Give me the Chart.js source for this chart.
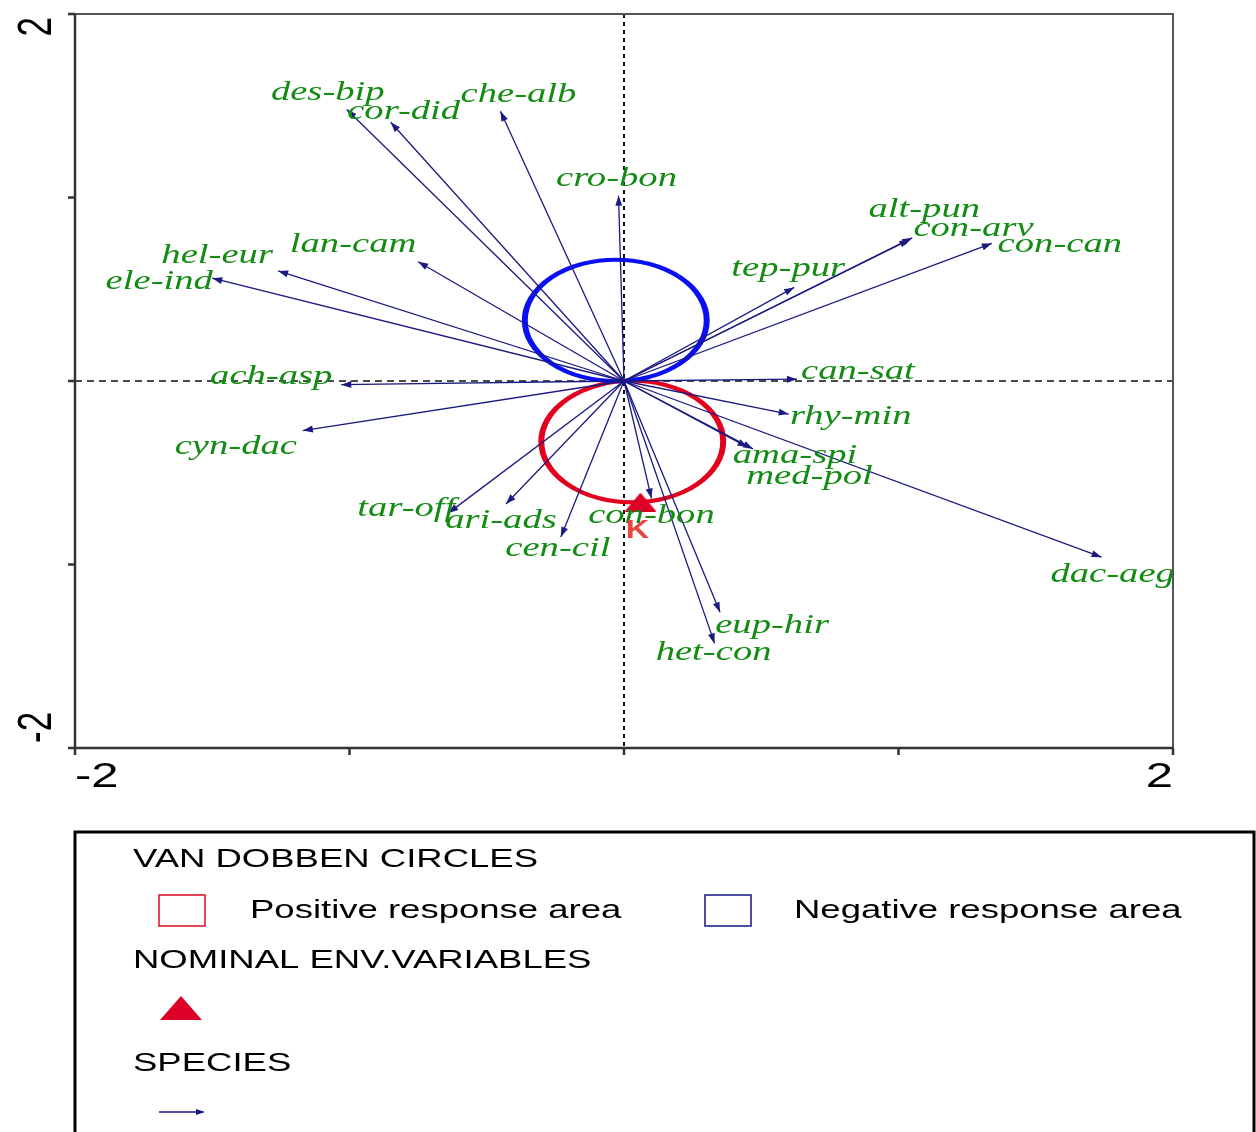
<!DOCTYPE html>
<html>
<head>
<meta charset="utf-8">
<script src="https://cdn.jsdelivr.net/npm/chart.js@4.4.1/dist/chart.umd.min.js"></script>
<style>
  html, body { margin: 0; padding: 0; background: #fff; }
  canvas { display: block; }
</style>
</head>
<body>
<canvas id="biplot" width="1256" height="1132"></canvas>
<script>
// species scores on the first two ordination axes
const species = ['des-bip', 'cor-did', 'che-alb', 'cro-bon', 'lan-cam', 'hel-eur', 'ele-ind', 'ach-asp',
  'cyn-dac', 'tar-off', 'ari-ads', 'cen-cil', 'con-bon', 'eup-hir', 'het-con', 'dac-aeg',
  'ama-spi', 'med-pol', 'rhy-min', 'can-sat', 'tep-pur', 'alt-pun', 'con-arv', 'con-can'];
const axis1 = [-1.01, -0.85, -0.45, -0.02, -0.75, -1.26, -1.50, -1.03,
  -1.17, -0.64, -0.43, -0.23, 0.10, 0.35, 0.33, 1.74,
  0.47, 0.45, 0.60, 0.63, 0.62, 1.05, 1.04, 1.34];
const axis2 = [1.48, 1.41, 1.47, 1.01, 0.65, 0.60, 0.56, -0.02,
  -0.27, -0.72, -0.67, -0.85, -0.64, -1.26, -1.43, -0.96,
  -0.37, -0.36, -0.18, 0.01, 0.51, 0.78, 0.77, 0.75];

// nominal environmental variable (centroid)
const envNames = ['K'];
const envAxis1 = [0.06];
const envAxis2 = [-0.66];

const tickValues = [-2, -1, 0, 1, 2];
const tickLabels = ['-2', '', '', '', '2'];

// label placement relative to each arrow tip, in pixels (centre x, baseline y)
const labelOffsets = [[-19, -9], [13, -3], [18, -9], [-2, -10], [-65, -10], [-61, -8], [-53, 11], [-70, -1],
  [-67, 23], [-42, 3], [-5, 24], [-3, 19], [0, 25], [52, 21], [-1, 17], [11, 25],
  [42, 14], [62, 37], [62, 10], [61, 0], [-6, -11], [12, -21], [64, -4], [68, 9]];

const STRETCH = 1.4;
const NAVY = '#1a1a80';
const RED = '#e3001f';
const BLUE = '#0a10f2';

function wideText(ctx, text, x, y, align, sx) {
  ctx.save();
  ctx.translate(x, y);
  ctx.scale(sx, 1);
  ctx.textAlign = align;
  ctx.textBaseline = 'alphabetic';
  ctx.fillText(text, 0, 0);
  ctx.restore();
}

function arrowHead(ctx, x0, y0, x1, y1, len, half) {
  const a = Math.atan2(y1 - y0, x1 - x0);
  ctx.beginPath();
  ctx.moveTo(x1, y1);
  ctx.lineTo(x1 - len * Math.cos(a) + half * Math.sin(a), y1 - len * Math.sin(a) - half * Math.cos(a));
  ctx.lineTo(x1 - len * Math.cos(a) - half * Math.sin(a), y1 - len * Math.sin(a) + half * Math.cos(a));
  ctx.closePath();
  ctx.fill();
}

// flattened triangle used as the centroid marker
function triangleMarker(w, h, color) {
  const c = document.createElement('canvas');
  c.width = w;
  c.height = h;
  const g = c.getContext('2d');
  g.fillStyle = color;
  g.beginPath();
  g.moveTo(w / 2, 0);
  g.lineTo(w, h);
  g.lineTo(0, h);
  g.closePath();
  g.fill();
  return c;
}

const biplotDecor = {
  id: 'biplotDecor',
  beforeDatasetsDraw(chart) {
    const { ctx, chartArea: a, scales: { x, y } } = chart;
    const x0 = x.getPixelForValue(0);
    const y0 = y.getPixelForValue(0);
    ctx.save();
    ctx.strokeStyle = '#111';
    ctx.lineWidth = 2;
    ctx.setLineDash([4, 4]);
    ctx.beginPath();
    ctx.moveTo(x0, a.top);
    ctx.lineTo(x0, a.bottom);
    ctx.stroke();
    ctx.lineWidth = 1.5;
    ctx.setLineDash([7, 5]);
    ctx.beginPath();
    ctx.moveTo(a.left, y0);
    ctx.lineTo(a.right, y0);
    ctx.stroke();
    ctx.setLineDash([]);

    // van Dobben circles: diameter from the origin to the centroid and to its mirror
    const kx = envAxis1[0];
    const ky = envAxis2[0];
    const r = Math.hypot(kx, ky) / 2;
    const rx = x.getPixelForValue(r) - x0;
    const ry = y0 - y.getPixelForValue(r);
    [[kx / 2, ky / 2, RED], [-kx / 2, -ky / 2, BLUE]].forEach(([cx, cy, col]) => {
      ctx.save();
      ctx.translate(x.getPixelForValue(cx), y.getPixelForValue(cy));
      ctx.scale(rx / ry, 1);
      ctx.beginPath();
      ctx.arc(0, 0, ry, 0, Math.PI * 2);
      ctx.strokeStyle = col;
      ctx.lineWidth = 4;
      ctx.stroke();
      ctx.restore();
    });
    ctx.restore();
  },
  afterDatasetsDraw(chart) {
    const { ctx, chartArea: a, scales: { x, y } } = chart;
    const x0 = x.getPixelForValue(0);
    const y0 = y.getPixelForValue(0);
    ctx.save();

    // arrow heads and species names
    ctx.fillStyle = NAVY;
    species.forEach((name, i) => {
      const tx = x.getPixelForValue(axis1[i]);
      const ty = y.getPixelForValue(axis2[i]);
      arrowHead(ctx, x0, y0, tx, ty, 10, 3.5);
    });
    ctx.font = 'italic 28px "Liberation Serif", "Times New Roman", serif';
    ctx.fillStyle = '#138c13';
    species.forEach((name, i) => {
      const tx = x.getPixelForValue(axis1[i]);
      const ty = y.getPixelForValue(axis2[i]);
      wideText(ctx, name, tx + labelOffsets[i][0], ty + labelOffsets[i][1], 'center', 1.38);
    });

    // centroid label
    ctx.font = 'bold 25px "Liberation Sans", Arial, sans-serif';
    ctx.fillStyle = '#e8473f';
    envNames.forEach((name, i) => {
      wideText(ctx, name, x.getPixelForValue(envAxis1[i]) - 3, y.getPixelForValue(envAxis2[i]) + 36, 'center', 1.3);
    });

    // plot frame with outward ticks
    ctx.strokeStyle = '#555';
    ctx.lineWidth = 2;
    ctx.beginPath();
    ctx.moveTo(a.left - 7, a.top);
    ctx.lineTo(a.right, a.top);
    ctx.lineTo(a.right, a.bottom + 7);
    ctx.stroke();
    ctx.strokeStyle = '#333';
    ctx.lineWidth = 2.5;
    ctx.beginPath();
    ctx.moveTo(a.left, a.top);
    ctx.lineTo(a.left, a.bottom + 7);
    ctx.moveTo(a.left - 7, a.bottom);
    ctx.lineTo(a.right, a.bottom);
    tickValues.forEach((v) => {
      const px = x.getPixelForValue(v);
      const py = y.getPixelForValue(v);
      ctx.moveTo(px, a.bottom);
      ctx.lineTo(px, a.bottom + 7);
      ctx.moveTo(a.left - 7, py);
      ctx.lineTo(a.left, py);
    });
    ctx.stroke();

    // tick labels: inner alignment at the ends of each axis
    ctx.font = '35px "Liberation Sans", Arial, sans-serif';
    ctx.fillStyle = '#000';
    tickValues.forEach((v, i) => {
      const t = tickLabels[i];
      if (!t) return;
      const px = x.getPixelForValue(v);
      const py = y.getPixelForValue(v);
      const first = i === 0;
      wideText(ctx, t, px, a.bottom + 39, first ? 'left' : 'right', STRETCH);
      ctx.save();
      ctx.translate(a.left - 24, first ? py - 5 : py + 3);
      ctx.rotate(-Math.PI / 2);
      ctx.scale(1, STRETCH);
      ctx.textAlign = first ? 'left' : 'right';
      ctx.fillText(t, 0, 0);
      ctx.restore();
    });
    ctx.restore();
  },
  afterDraw(chart) {
    const { ctx } = chart;
    ctx.save();
    ctx.strokeStyle = '#000';
    ctx.lineWidth = 3;
    ctx.strokeRect(75, 832, 1179, 400);

    ctx.fillStyle = '#000';
    ctx.font = '25px "Liberation Sans", Arial, sans-serif';
    wideText(ctx, 'VAN DOBBEN CIRCLES', 133, 867, 'left', 1.46);
    wideText(ctx, 'Positive response area', 250, 918, 'left', 1.46);
    wideText(ctx, 'Negative response area', 794, 918, 'left', 1.46);
    wideText(ctx, 'NOMINAL ENV.VARIABLES', 133, 968, 'left', 1.46);
    wideText(ctx, 'SPECIES', 133, 1071, 'left', 1.46);

    ctx.lineWidth = 1.6;
    ctx.strokeStyle = '#e3192f';
    ctx.strokeRect(159, 895, 46, 31);
    ctx.strokeStyle = '#23238c';
    ctx.strokeRect(705, 895, 46, 31);

    ctx.drawImage(triangleMarker(42, 24, '#dc0028'), 160, 996);

    ctx.strokeStyle = NAVY;
    ctx.fillStyle = NAVY;
    ctx.lineWidth = 1.6;
    ctx.beginPath();
    ctx.moveTo(159, 1112);
    ctx.lineTo(203, 1112);
    ctx.stroke();
    arrowHead(ctx, 159, 1112, 205, 1112, 9, 3);
    ctx.restore();
  }
};

const arrowSets = species.map((name, i) => ({
  label: name,
  data: [{ x: 0, y: 0 }, { x: axis1[i], y: axis2[i] }],
  showLine: true,
  borderColor: NAVY,
  borderWidth: 1.3,
  pointRadius: 0
}));

const centroidSet = {
  label: envNames[0],
  data: envNames.map((n, i) => ({ x: envAxis1[i], y: envAxis2[i] })),
  pointStyle: triangleMarker(32, 19, '#dc0028'),
  pointRadius: 10,
  showLine: false
};

new Chart(document.getElementById('biplot'), {
  type: 'scatter',
  data: { datasets: [...arrowSets, centroidSet] },
  options: {
    responsive: false,
    animation: false,
    layout: { padding: { left: 75, top: 14, right: 83, bottom: 384 } },
    plugins: { legend: { display: false }, tooltip: { enabled: false } },
    scales: {
      x: { type: 'linear', min: -2, max: 2, display: false },
      y: { type: 'linear', min: -2, max: 2, display: false }
    }
  },
  plugins: [biplotDecor]
});
</script>
</body>
</html>
